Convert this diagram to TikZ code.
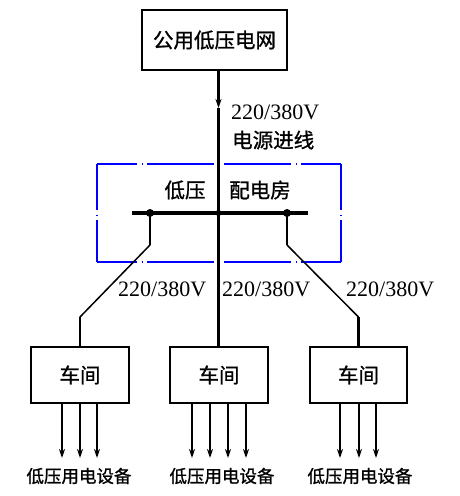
\documentclass[tikz,border=0pt]{standalone}
\usepackage{fontspec}
\setmainfont{Liberation Serif}
\newfontfamily\cjk[FakeBold=1]{Noto Sans CJK SC}
\usetikzlibrary{arrows.meta}
\definecolor{dashblue}{RGB}{0,0,255}
\begin{document}
\begin{tikzpicture}[x=1pt,y=-1pt,
  box/.style={draw,line width=2.2pt,rectangle,inner sep=0pt,font=\cjk\fontsize{20.5}{24}\selectfont},
  cjklab/.style={inner sep=0pt,font=\cjk\fontsize{20.5}{24}\selectfont},
  devlab/.style={inner sep=0pt,font=\cjk\fontsize{17.5}{21}\selectfont},
  volt/.style={inner sep=0pt,font=\fontsize{22}{26}\selectfont,anchor=west},
  wire/.style={line width=2.2pt},
  thinwire/.style={line width=1.5pt},
  busbar/.style={line width=4pt},
  outarrow/.style={line width=2.2pt,-{Stealth[length=9pt,width=6pt]}},
  bluedash/.style={draw=dashblue,line width=1.8pt,dash pattern=on 67pt off 4.5pt on 1pt off 4.5pt},
  joint/.style={circle,fill=black,inner sep=0pt,minimum size=#1}
]
\useasboundingbox (0,0) rectangle (460,496);

% top box
\node[box,minimum width=145pt,minimum height=60pt] (grid) at (214.5,40) {公用低压电网};

% dashed room outline
\draw[bluedash,dash phase=27pt] (97,164) -- (341,164);
\draw[bluedash,dash phase=27pt] (97,262) -- (341,262);
\draw[bluedash,dash phase=21pt] (97,164) -- (97,262);
\draw[bluedash,dash phase=21pt] (341,164) -- (341,262);

\node[cjklab] (lv) at (185,190) {低压};
\node[cjklab] (room) at (260,190) {配电房};

% bus bar
\coordinate (busL) at (132,213);
\coordinate (busR) at (308,213);
\draw[busbar] (busL) -- (busR);
\node[joint=8pt] (j1) at (150,213) {};
\node[joint=6pt] (j2) at (218.5,213) {};
\node[joint=8pt] (j3) at (287,213) {};

% incoming line
\coordinate (arr) at (218.5,108);
\draw[wire,-{Stealth[length=9pt,width=6pt]}] (grid.south -| j2) -- (arr);
\draw[wire] (arr) -- (j2.center);
\node[volt] (vin) at (231,112) {220/380V};
\node[cjklab,anchor=west] (inlab) at (232,140) {电源进线};

% workshops
\node[box,minimum width=98pt,minimum height=56pt] (w1) at (80,375) {车间};
\node[box,minimum width=98pt,minimum height=56pt] (w2) at (219,375) {车间};
\node[box,minimum width=97pt,minimum height=56pt] (w3) at (358.5,375) {车间};

% branches
\coordinate (b1a) at (150,245);
\coordinate (b1b) at (80,317);
\draw[wire] (j1.center) -- (b1a);
\draw[thinwire] (b1a) -- (b1b);
\draw[wire] (b1b) -- (w1.north);

\draw[wire] (j2.center) -- (w2.north -| j2);

\coordinate (b3a) at (287,245);
\coordinate (b3b) at (358.5,317);
\draw[wire] (j3.center) -- (b3a);
\draw[thinwire] (b3a) -- (b3b);
\draw[wire] (b3b) -- (w3.north);

\node[volt] (v1) at (118,289) {220/380V};
\node[volt] (v2) at (222,289) {220/380V};
\node[volt] (v3) at (346,289) {220/380V};

% outgoing arrows
\foreach \x [count=\i] in {62,80,97} {
  \coordinate (e1\i) at (\x,458);
  \draw[outarrow] (w1.south -| e1\i) -- (e1\i);
}
\foreach \x [count=\i] in {192,210,228,246} {
  \coordinate (e2\i) at (\x,458);
  \draw[outarrow] (w2.south -| e2\i) -- (e2\i);
}
\foreach \x [count=\i] in {340,359,376} {
  \coordinate (e3\i) at (\x,458);
  \draw[outarrow] (w3.south -| e3\i) -- (e3\i);
}

\node[devlab] (d1) at (79,476) {低压用电设备};
\node[devlab] (d2) at (222,476) {低压用电设备};
\node[devlab] (d3) at (360,476) {低压用电设备};
\end{tikzpicture}
\end{document}
